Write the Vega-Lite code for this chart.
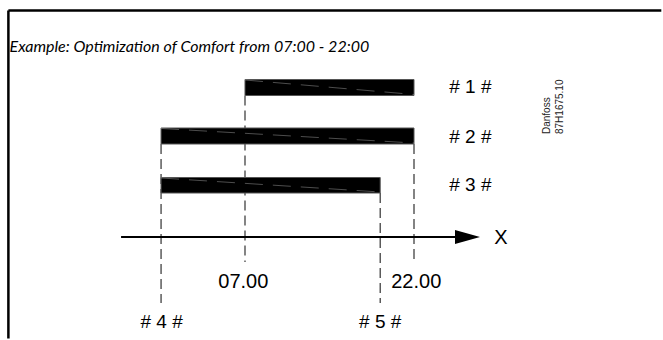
{
  "$schema": "https://vega.github.io/schema/vega-lite/v6.json",
  "width": 663,
  "height": 340,
  "autosize": {"type": "fit", "contains": "padding"},
  "padding": 0,
  "background": "white",
  "config": {"view": {"stroke": null, "fill": null}, "axis": {"disable": true}},
  "datasets": {
    "frametop": [
      {"x": -14.0, "x2": 43.95, "y": 1.05}
    ],
    "frameleft": [
      {"x": -14.0, "y": 1.05, "y2": 33.85}
    ],
    "bars": [
      {"bar": "# 1 #", "x": 7, "x2": 22, "y": 7.95, "y2": 9.55},
      {"bar": "# 2 #", "x": -0.45, "x2": 22, "y": 12.8, "y2": 14.4},
      {"bar": "# 3 #", "x": -0.45, "x2": 19, "y": 17.75, "y2": 19.3}
    ],
    "streaks": [
      {"x": 7, "y": 8.0, "x2": 22, "y2": 9.45},
      {"x": -0.45, "y": 12.85, "x2": 22, "y2": 14.3},
      {"x": -0.45, "y": 17.8, "x2": 19, "y2": 19.2}
    ],
    "guides": [
      {"x": -0.45, "y": 14.4, "y2": 30.3},
      {"x": 7, "y": 9.55, "y2": 26.2},
      {"x": 19, "y": 19.3, "y2": 30.3},
      {"x": 22, "y": 14.4, "y2": 26.2}
    ],
    "axisline": [
      {"x": -4, "x2": 26.2, "y": 23.7}
    ],
    "arrow": [
      {"x": 26.75, "y": 23.7}
    ],
    "title": [
      {"text": "Example: Optimization of Comfort from 07:00 - 22:00", "x": -13.9, "y": 5.15}
    ],
    "hashlabels": [
      {"text": "# 1 #", "x": 27, "y": 8.7},
      {"text": "# 2 #", "x": 27, "y": 13.7},
      {"text": "# 3 #", "x": 27, "y": 18.5},
      {"text": "# 4 #", "x": -0.4, "y": 32.2},
      {"text": "# 5 #", "x": 19, "y": 32.2}
    ],
    "ticklabels": [
      {"text": "07.00", "x": 6.85, "y": 28.2},
      {"text": "22.00", "x": 22.2, "y": 28.2},
      {"text": "X", "x": 29.72, "y": 23.75}
    ],
    "stamp": [
      {"text": "Danfoss", "x": 33.8, "y": 13.4},
      {"text": "87H1675.10", "x": 34.95, "y": 13.4}
    ]
  },
  "layer": [
    {
      "data": {"name": "frametop"},
      "mark": {"type": "rule", "color": "black", "strokeWidth": 2.5},
      "encoding": {
        "x": {"field": "x", "type": "quantitative", "axis": null, "scale": {"domain": [-14.745, 44.1], "nice": false, "zero": false}},
        "x2": {"field": "x2"},
        "y": {"field": "y", "type": "quantitative", "axis": null, "scale": {"domain": [0, 34], "reverse": true, "nice": false, "zero": false}}
      }
    },
    {
      "data": {"name": "frameleft"},
      "mark": {"type": "rule", "color": "black", "strokeWidth": 2.5},
      "encoding": {
        "x": {"field": "x", "type": "quantitative", "axis": null},
        "y": {"field": "y", "type": "quantitative", "axis": null},
        "y2": {"field": "y2"}
      }
    },
    {
      "data": {"name": "guides"},
      "mark": {"type": "rule", "color": "#333333", "strokeWidth": 1.2, "strokeDash": [10, 5]},
      "encoding": {
        "x": {"field": "x", "type": "quantitative", "axis": null},
        "y": {"field": "y", "type": "quantitative", "axis": null},
        "y2": {"field": "y2"}
      }
    },
    {
      "data": {"name": "bars"},
      "mark": {"type": "rect", "color": "black", "stroke": "#555555", "strokeWidth": 1},
      "encoding": {
        "x": {"field": "x", "type": "quantitative", "axis": null},
        "x2": {"field": "x2"},
        "y": {"field": "y", "type": "quantitative", "axis": null},
        "y2": {"field": "y2"}
      }
    },
    {
      "data": {"name": "streaks"},
      "mark": {"type": "rule", "color": "#9a9a9a", "strokeWidth": 0.5, "strokeDash": [18, 10]},
      "encoding": {
        "x": {"field": "x", "type": "quantitative", "axis": null},
        "x2": {"field": "x2"},
        "y": {"field": "y", "type": "quantitative", "axis": null},
        "y2": {"field": "y2"}
      }
    },
    {
      "data": {"name": "axisline"},
      "mark": {"type": "rule", "color": "black", "strokeWidth": 2},
      "encoding": {
        "x": {"field": "x", "type": "quantitative", "axis": null},
        "x2": {"field": "x2"},
        "y": {"field": "y", "type": "quantitative", "axis": null}
      }
    },
    {
      "data": {"name": "arrow"},
      "mark": {"type": "point", "shape": "M-1,-0.56L1,0L-1,0.56Z", "size": 625, "filled": true, "color": "black", "opacity": 1},
      "encoding": {
        "x": {"field": "x", "type": "quantitative", "axis": null},
        "y": {"field": "y", "type": "quantitative", "axis": null}
      }
    },
    {
      "data": {"name": "title"},
      "mark": {"type": "text", "font": "Lato", "fontStyle": "italic", "fontSize": 16, "align": "left", "baseline": "alphabetic", "color": "black"},
      "encoding": {
        "x": {"field": "x", "type": "quantitative", "axis": null},
        "y": {"field": "y", "type": "quantitative", "axis": null},
        "text": {"field": "text"}
      }
    },
    {
      "data": {"name": "hashlabels"},
      "mark": {"type": "text", "font": "Liberation Sans", "fontSize": 19, "align": "center", "baseline": "middle", "color": "black"},
      "encoding": {
        "x": {"field": "x", "type": "quantitative", "axis": null},
        "y": {"field": "y", "type": "quantitative", "axis": null},
        "text": {"field": "text"}
      }
    },
    {
      "data": {"name": "ticklabels"},
      "mark": {"type": "text", "font": "Liberation Sans", "fontSize": 20, "align": "center", "baseline": "middle", "color": "black"},
      "encoding": {
        "x": {"field": "x", "type": "quantitative", "axis": null},
        "y": {"field": "y", "type": "quantitative", "axis": null},
        "text": {"field": "text"}
      }
    },
    {
      "data": {"name": "stamp"},
      "mark": {"type": "text", "font": "Liberation Sans", "fontSize": 10, "angle": 270, "align": "left", "baseline": "middle", "color": "#222222"},
      "encoding": {
        "x": {"field": "x", "type": "quantitative", "axis": null},
        "y": {"field": "y", "type": "quantitative", "axis": null},
        "text": {"field": "text"}
      }
    }
  ]
}
